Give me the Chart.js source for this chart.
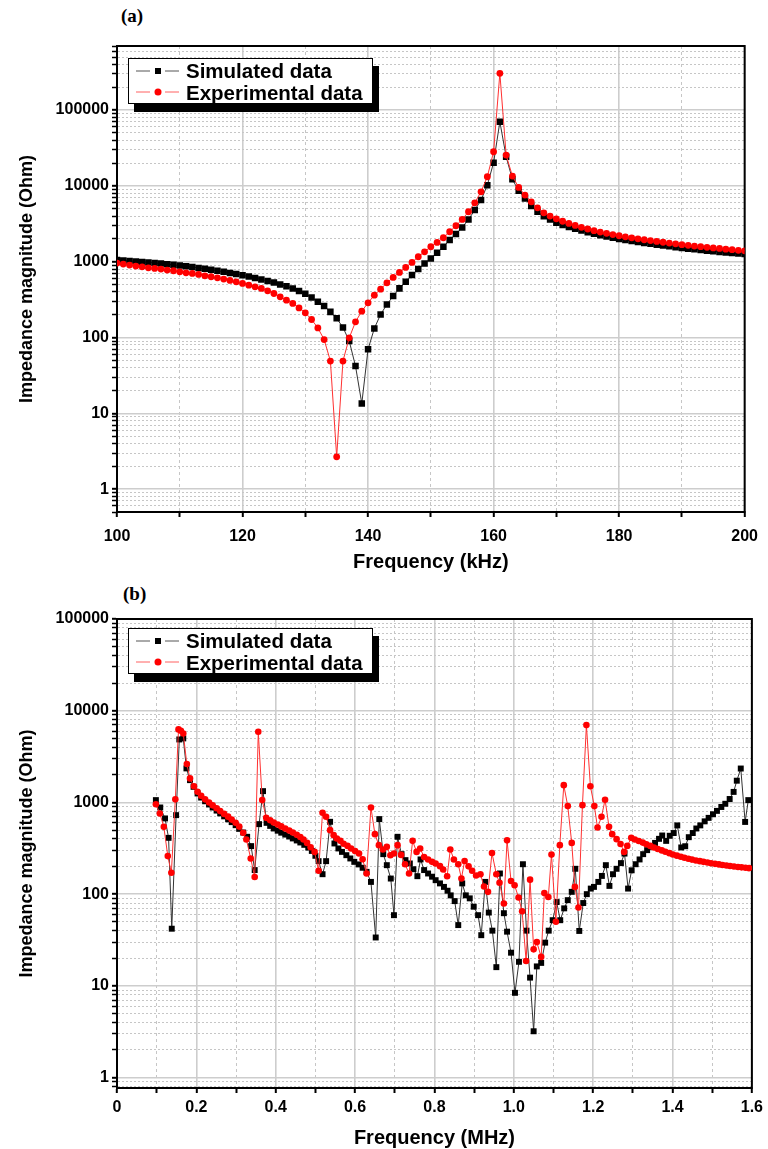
<!DOCTYPE html>
<html>
<head>
<meta charset="utf-8">
<script src="https://cdn.jsdelivr.net/npm/chart.js@4.4.0/dist/chart.umd.min.js"></script>
<style>
  body { margin: 0; background: #fff; width: 768px; height: 1149px; position: relative; overflow: hidden; }
  canvas { position: absolute; left: 0; }
  .tag { position: absolute; font: bold 19px 'Liberation Serif', 'DejaVu Serif', serif; color: #000; }
  .legend {
    position: absolute; box-sizing: border-box; background: #fff; border: 1.5px solid #000;
    box-shadow: 6px 8px 0 #000; padding: 1px 0 0 7px;
    font: bold 20.5px 'Liberation Sans', Arial, sans-serif; color: #000;
  }
  .row { height: 21.5px; line-height: 21.5px; white-space: nowrap; display: flex; align-items: center; }
  .row svg { margin-right: 6px; flex: none; }
</style>
</head>
<body>
<div class="tag" style="left:121px;top:5px">(a)</div>
<canvas id="chartA" width="768" height="575" style="top:0"></canvas>
<div class="legend" style="left:128px;top:58px;width:245px;height:46px">
  <div class="row"><svg width="44" height="12"><line x1="0" y1="6" x2="14" y2="6" stroke="#555" stroke-width="1"/><rect x="19" y="3" width="6" height="6" fill="#000"/><line x1="29" y1="6" x2="43" y2="6" stroke="#555" stroke-width="1"/></svg>Simulated data</div>
  <div class="row"><svg width="44" height="12"><line x1="0" y1="6" x2="14" y2="6" stroke="#ff6060" stroke-width="1"/><circle cx="22" cy="6" r="3.5" fill="#ff0000"/><line x1="29" y1="6" x2="43" y2="6" stroke="#ff6060" stroke-width="1"/></svg>Experimental data</div>
</div>

<div class="tag" style="left:123px;top:583px">(b)</div>
<canvas id="chartB" width="768" height="574" style="top:575px"></canvas>
<div class="legend" style="left:128px;top:628px;width:245px;height:46px">
  <div class="row"><svg width="44" height="12"><line x1="0" y1="6" x2="14" y2="6" stroke="#555" stroke-width="1"/><rect x="19" y="3" width="6" height="6" fill="#000"/><line x1="29" y1="6" x2="43" y2="6" stroke="#555" stroke-width="1"/></svg>Simulated data</div>
  <div class="row"><svg width="44" height="12"><line x1="0" y1="6" x2="14" y2="6" stroke="#ff6060" stroke-width="1"/><circle cx="22" cy="6" r="3.5" fill="#ff0000"/><line x1="29" y1="6" x2="43" y2="6" stroke="#ff6060" stroke-width="1"/></svg>Experimental data</div>
</div>

<script>
// ---- panel (a): 100-200 kHz, 1 kHz steps ----
const freqA = [];
for (let f = 100; f <= 200; f++) freqA.push(f);

const simA = [
  1050, 1040, 1025, 1010, 995, 980, 962, 945, 928, 910,
  890, 870, 850, 828, 806, 784, 760, 737, 712, 688,
  662, 636, 610, 584, 557, 530, 502, 473, 443, 412,
  378, 338, 296, 260, 218, 179, 136, 90, 42, 13.5,
  70, 132, 202, 273, 352, 445, 543, 666, 799, 950,
  1106, 1313, 1575, 1928, 2312, 2833, 3610, 4795, 6500, 10230,
  20200, 70100, 24200, 12200, 8610, 6840, 5420, 4550, 3990, 3610,
  3260, 3060, 2880, 2720, 2580, 2450, 2340, 2240, 2150, 2070,
  2000, 1935, 1875, 1820, 1770, 1720, 1675, 1635, 1595, 1555,
  1520, 1485, 1455, 1425, 1395, 1370, 1345, 1320, 1300, 1280,
  1260
];
const expA = [
  960, 930, 902, 875, 857, 831, 815, 799, 775, 760,
  736, 714, 701, 680, 652, 633, 614, 590, 567, 543,
  517, 491, 467, 445, 413, 381, 344, 311, 282, 246,
  212, 173, 134, 94, 49, 2.67, 49, 99, 161, 223,
  287, 362, 435, 527, 621, 723, 841, 980, 1162, 1352,
  1575, 1798, 2070, 2485, 2980, 3610, 4560, 5985, 8360, 13200,
  28200, 305000, 25500, 13470, 9550, 7560, 6170, 5140, 4415, 4000,
  3680, 3420, 3200, 3010, 2840, 2700, 2570, 2460, 2370, 2280,
  2200, 2130, 2065, 2005, 1950, 1900, 1850, 1805, 1760, 1720,
  1680, 1645, 1610, 1580, 1550, 1520, 1495, 1465, 1440, 1415,
  1390
];

// ---- panel (b): 0.1-1.6 MHz ----
const simFreqB = [
  0.098, 0.109, 0.121, 0.130, 0.138, 0.149, 0.157, 0.167, 0.175, 0.184,
  0.193, 0.203, 0.212, 0.222, 0.232, 0.241, 0.251, 0.260, 0.270, 0.280,
  0.289, 0.299, 0.308, 0.318, 0.328, 0.338, 0.347, 0.358, 0.368, 0.377,
  0.386, 0.395, 0.405, 0.414, 0.424, 0.434, 0.443, 0.453, 0.462, 0.472,
  0.482, 0.491, 0.500, 0.508, 0.518, 0.527, 0.537, 0.548, 0.558, 0.567,
  0.578, 0.588, 0.598, 0.609, 0.619, 0.629, 0.640, 0.652, 0.661, 0.671,
  0.680, 0.690, 0.698, 0.707, 0.717, 0.727, 0.738, 0.747, 0.757, 0.765,
  0.774, 0.784, 0.794, 0.803, 0.814, 0.824, 0.833, 0.841, 0.851, 0.860,
  0.870, 0.879, 0.889, 0.899, 0.910, 0.918, 0.928, 0.937, 0.946, 0.956,
  0.965, 0.975, 0.983, 0.993, 1.003, 1.013, 1.023, 1.032, 1.041, 1.050,
  1.058, 1.069, 1.079, 1.088, 1.098, 1.108, 1.117, 1.127, 1.136, 1.146,
  1.155, 1.165, 1.175, 1.184, 1.194, 1.202, 1.213, 1.222, 1.232, 1.241,
  1.250, 1.259, 1.270, 1.279, 1.288, 1.297, 1.307, 1.317, 1.326, 1.336,
  1.346, 1.356, 1.366, 1.374, 1.384, 1.393, 1.403, 1.412, 1.422, 1.432,
  1.441, 1.451, 1.460, 1.470, 1.481, 1.491, 1.502, 1.512, 1.523, 1.533,
  1.544, 1.554, 1.562, 1.572, 1.583, 1.591
];
const simB = [
  1060, 881, 669, 411, 42, 727, 4860, 4990, 2350, 1750,
  1480, 1253, 1130, 1030, 950, 880, 815, 760, 705, 655,
  610, 565, 515, 470, 422, 334, 183, 580, 1328, 599,
  555, 520, 492, 468, 446, 425, 405, 385, 366, 345,
  322, 296, 262, 229, 165, 229, 615, 357, 315, 289,
  266, 245, 225, 211, 194, 175, 136, 33.7, 658, 273,
  207, 148, 59, 422, 273, 235, 216, 187, 157, 239,
  183, 168, 155, 142, 131, 120, 109, 97, 84, 46,
  131, 97, 90, 73, 59, 35.7, 136, 63, 40, 16,
  168, 62, 39, 23, 8.4, 18.3, 212, 40, 12.3, 3.2,
  16.3, 17.8, 29.6, 40, 52, 82, 52, 70, 86, 106,
  189, 39.7, 80, 100, 115, 120, 136, 158, 207, 123,
  165, 189, 218, 277, 115, 182, 212, 239, 273, 302,
  328, 362, 401, 436, 381, 433, 464, 562, 323, 333,
  418, 464, 520, 562, 622, 679, 743, 809, 892, 967,
  1090, 1303, 1726, 2343, 613, 1060
];
const expFreqB = [
  0.098, 0.108, 0.118, 0.128, 0.137, 0.147, 0.155, 0.161, 0.167, 0.176,
  0.184, 0.194, 0.203, 0.212, 0.222, 0.232, 0.241, 0.251, 0.260, 0.270,
  0.280, 0.289, 0.299, 0.308, 0.318, 0.326, 0.337, 0.347, 0.356, 0.366,
  0.376, 0.386, 0.395, 0.405, 0.414, 0.424, 0.434, 0.443, 0.453, 0.462,
  0.470, 0.479, 0.488, 0.498, 0.508, 0.518, 0.527, 0.537, 0.546, 0.554,
  0.563, 0.571, 0.581, 0.590, 0.600, 0.610, 0.619, 0.629, 0.640, 0.650,
  0.660, 0.670, 0.680, 0.689, 0.698, 0.707, 0.716, 0.726, 0.736, 0.745,
  0.755, 0.764, 0.774, 0.784, 0.794, 0.803, 0.814, 0.822, 0.832, 0.840,
  0.849, 0.860, 0.868, 0.876, 0.886, 0.895, 0.905, 0.916, 0.925, 0.935,
  0.945, 0.956, 0.964, 0.975, 0.983, 0.993, 1.002, 1.012, 1.021, 1.031,
  1.041, 1.050, 1.058, 1.069, 1.077, 1.087, 1.095, 1.106, 1.116, 1.126,
  1.136, 1.146, 1.154, 1.163, 1.173, 1.183, 1.193, 1.203, 1.211, 1.221,
  1.230, 1.240, 1.248, 1.259, 1.269, 1.278, 1.286, 1.296, 1.305, 1.315,
  1.325, 1.334, 1.344, 1.353, 1.363, 1.373, 1.382, 1.392, 1.401, 1.411,
  1.421, 1.430, 1.440, 1.449, 1.459, 1.469, 1.478, 1.488, 1.497, 1.507,
  1.517, 1.526, 1.536, 1.545, 1.555, 1.565, 1.574, 1.584, 1.593
];
const expB = [
  957, 758, 542, 260, 171, 1080, 6260, 6040, 5650, 2620,
  1828, 1500, 1306, 1180, 1080, 1000, 930, 865, 805, 750,
  700, 650, 600, 545, 466, 395, 245, 154, 5890, 1060,
  679, 640, 605, 575, 548, 520, 495, 470, 445, 420,
  395, 362, 325, 289, 180, 771, 697, 499, 440, 405,
  381, 355, 336, 315, 296, 278, 240, 168, 881, 451,
  342, 307, 328, 266, 278, 342, 268, 212, 168, 381,
  289, 315, 254, 239, 225, 216, 202, 186, 157, 307,
  239, 212, 148, 230, 201, 180, 160, 165, 121, 106,
  281, 165, 133, 79, 386, 139, 125, 92, 65, 18.7,
  144, 25, 30, 20.7, 103, 93, 270, 50, 342, 1544,
  912, 362, 120, 71.6, 934, 6970, 1500, 912, 532, 697,
  1070, 542, 451, 398, 352, 289, 336, 411, 395, 380,
  365, 350, 336, 323, 311, 300, 290, 280, 271, 263,
  256, 249, 243, 238, 233, 229, 225, 221, 217, 214,
  211, 208, 205, 203, 200, 198, 196, 194, 192
];

// tick labels
const xLabelsA = [100, 120, 140, 160, 180, 200];
const xLabelsB = ['0', '0.2', '0.4', '0.6', '0.8', '1.0', '1.2', '1.4', '1.6'];
const yDecades = [1, 10, 100, 1000, 10000, 100000];

const FONT = "'Liberation Sans', Arial, sans-serif";
const MAJOR_GRID = '#cdcdcd';
const MINOR_GRID = '#c6c6c6';

const isDecade = v => yDecades.includes(v) || Math.abs(Math.log10(v) - Math.round(Math.log10(v))) < 1e-9;

function logTickValues(min, max) {
  const out = [];
  for (let e = -1; e <= 6; e++) {
    for (let m = 1; m <= 9; m++) {
      const v = +(m * Math.pow(10, e)).toPrecision(6);
      if (v >= min - 1e-9 && v <= max + 1e-9) out.push(v);
    }
  }
  return out;
}

const frame = {
  id: 'frame',
  beforeDatasetsDraw(chart) {
    const { ctx, chartArea: a } = chart;
    ctx.save();
    ctx.strokeStyle = '#000';
    ctx.lineWidth = 2;
    ctx.strokeRect(a.left, a.top, a.right - a.left, a.bottom - a.top);
    ctx.restore();
  }
};

function yAxis(min, max) {
  const vals = logTickValues(min, max);
  return {
    type: 'logarithmic',
    min: min,
    max: max,
    afterBuildTicks: s => { s.ticks = vals.map(v => ({ value: v, major: isDecade(v) })); },
    afterFit: s => { s.width = 117; },
    ticks: {
      autoSkip: false,
      padding: 3,
      color: '#000',
      font: { family: FONT, size: 16, weight: 'bold' },
      callback: v => isDecade(v) ? String(v) : ''
    },
    grid: {
      color: c => (c.tick && isDecade(c.tick.value)) ? MAJOR_GRID : MINOR_GRID,
      lineWidth: c => (c.tick && isDecade(c.tick.value)) ? 1.6 : 1,
      tickColor: '#000',
      tickLength: 5,
      tickWidth: c => (c.tick && isDecade(c.tick.value)) ? 2 : 1.5
    },
    border: {
      color: '#000', width: 2,
      dash: c => (c.tick && !isDecade(c.tick.value)) ? [2, 2] : []
    },
    title: {
      display: true,
      text: 'Impedance magnitude (Ohm)',
      color: '#000',
      font: { family: FONT, size: 18, weight: 'bold', lineHeight: 1.2 },
      padding: { top: 16, bottom: 0 }
    }
  };
}

function seriesStyle(label, color, lineColor, style, radius, order) {
  return {
    label: label,
    borderColor: lineColor,
    backgroundColor: color,
    pointBackgroundColor: color,
    pointBorderColor: color,
    pointBorderWidth: 0,
    pointStyle: style,
    pointRadius: radius,
    borderWidth: 1,
    tension: 0,
    order: order
  };
}

new Chart(document.getElementById('chartA'), {
  type: 'line',
  data: {
    datasets: [
      Object.assign(seriesStyle('Simulated data', '#000', '#333', 'rect', 4.6, 1),
        { data: freqA.map((f, i) => ({ x: f, y: simA[i] })) }),
      Object.assign(seriesStyle('Experimental data', '#ff0000', '#ff3030', 'circle', 3.4, 0),
        { data: freqA.map((f, i) => ({ x: f, y: expA[i] })) })
    ]
  },
  options: {
    responsive: false,
    animation: false,
    layout: { padding: { top: 46, right: 19, left: 0, bottom: 0 } },
    plugins: { legend: { display: false }, tooltip: { enabled: false } },
    scales: {
      x: {
        type: 'linear', min: 100, max: 200,
        afterFit: s => { s.height = 63; },
        ticks: {
          stepSize: 10, autoSkip: false, maxRotation: 0, padding: 10, color: '#000',
          font: { family: FONT, size: 16, weight: 'bold' },
          callback: v => xLabelsA.includes(v) ? String(v) : ''
        },
        grid: {
          color: c => (c.tick && c.tick.value % 20 === 0) ? MAJOR_GRID : MINOR_GRID,
          lineWidth: c => (c.tick && c.tick.value % 20 === 0) ? 1.6 : 1,
          tickColor: '#000', tickLength: 5, tickWidth: 2
        },
        border: { color: '#000', width: 2, dash: c => (c.tick && c.tick.value % 20 !== 0) ? [3, 3] : [] },
        title: {
          display: true, text: 'Frequency (kHz)', color: '#000',
          font: { family: FONT, size: 20, weight: 'bold', lineHeight: 1.2 },
          padding: { top: 0, bottom: 1 }
        }
      },
      y: yAxis(0.5, 700000)
    }
  },
  plugins: [frame]
});

new Chart(document.getElementById('chartB'), {
  type: 'line',
  data: {
    datasets: [
      Object.assign(seriesStyle('Simulated data', '#000', '#333', 'rect', 4.2, 1),
        { data: simFreqB.map((f, i) => ({ x: f, y: simB[i] })) }),
      Object.assign(seriesStyle('Experimental data', '#ff0000', '#ff3030', 'circle', 3.3, 0),
        { data: expFreqB.map((f, i) => ({ x: f, y: expB[i] })) })
    ]
  },
  options: {
    responsive: false,
    animation: false,
    layout: { padding: { top: 44, right: 13, left: 0, bottom: 0 } },
    plugins: { legend: { display: false }, tooltip: { enabled: false } },
    scales: {
      x: {
        type: 'linear', min: 0, max: 1.6,
        afterFit: s => { s.height = 61; },
        ticks: {
          stepSize: 0.1, autoSkip: false, maxRotation: 0, padding: 5, color: '#000',
          font: { family: FONT, size: 16, weight: 'bold' },
          callback: v => {
            const r = Math.round(v * 10);
            return r % 2 === 0 ? xLabelsB[r / 2] : '';
          }
        },
        grid: {
          color: c => (c.tick && Math.round(c.tick.value * 10) % 2 === 0) ? MAJOR_GRID : MINOR_GRID,
          lineWidth: c => (c.tick && Math.round(c.tick.value * 10) % 2 === 0) ? 1.6 : 1,
          tickColor: '#000', tickLength: 5, tickWidth: 2
        },
        border: { color: '#000', width: 2, dash: c => (c.tick && Math.round(c.tick.value * 10) % 2 !== 0) ? [3, 3] : [] },
        title: {
          display: true, text: 'Frequency (MHz)', color: '#000',
          font: { family: FONT, size: 20, weight: 'bold', lineHeight: 1.1 },
          padding: { top: 0, bottom: 0 }
        }
      },
      y: yAxis(0.77, 100000)
    }
  },
  plugins: [frame]
});
</script>
</body>
</html>
